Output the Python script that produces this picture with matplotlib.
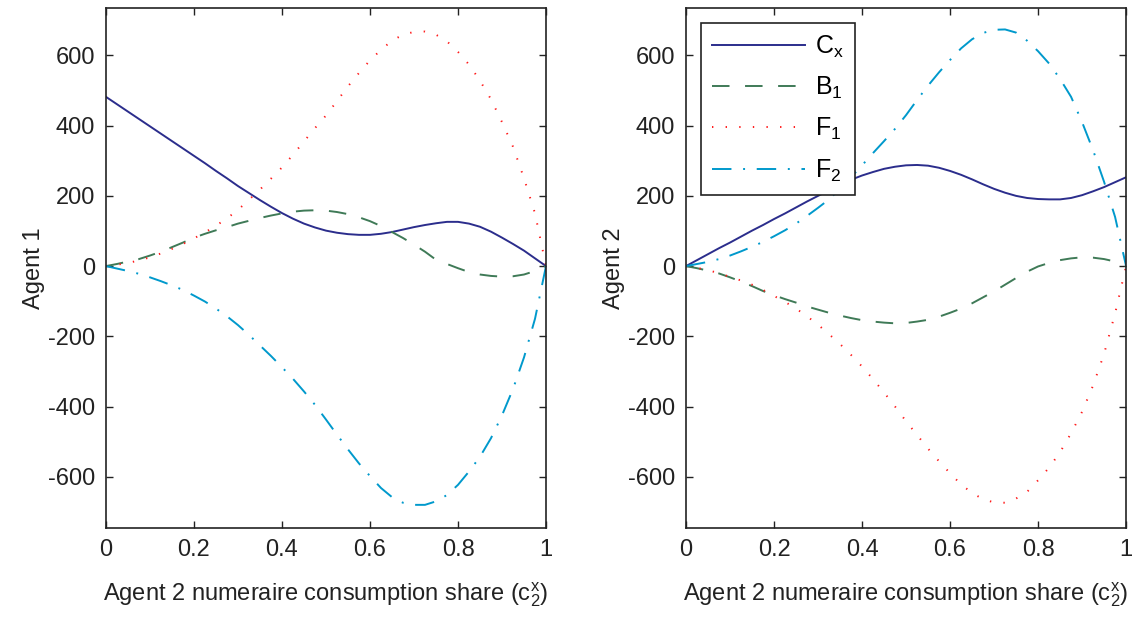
import matplotlib
matplotlib.use("Agg")
import matplotlib.pyplot as plt

plt.rcParams['font.family'] = ['Liberation Sans', 'DejaVu Sans']
plt.rcParams['mathtext.fontset'] = 'custom'
plt.rcParams['mathtext.rm'] = 'Liberation Sans'
plt.rcParams['mathtext.it'] = 'Liberation Sans'
plt.rcParams['mathtext.default'] = 'regular'
plt.rcParams['axes.unicode_minus'] = False

# agent 2 numeraire consumption share, steps of 0.025
share = [i / 40 for i in range(41)]

# agent 1
a1_cx = [482, 461, 440, 419, 398, 377, 356, 335, 314, 293, 271, 250, 228, 208,
         188, 169, 151, 135, 121, 110, 101, 95, 91, 89, 89, 92, 97, 104, 111,
         117, 122, 126, 126, 121, 112, 98, 81, 63, 44, 22, 0]
a1_b1 = [0, 6, 13, 20, 30, 41, 54, 67, 81, 92, 102, 111, 121, 129, 137, 144,
         150, 155, 158, 159, 158, 154, 148, 139, 128, 114, 97, 80, 61, 41, 18,
         6, -6, -17, -24, -28, -30, -29, -24, -14, 0]
a1_f1 = [0, 4, 9, 16, 25, 36, 49, 63, 79, 96, 115, 136, 160, 189, 218, 249,
         281, 317, 355, 393, 429, 470, 512, 550, 586, 616, 642, 659, 667, 668,
         659, 640, 610, 574, 528, 475, 410, 340, 250, 150, 0]
a1_f2 = [0, -7, -14, -22, -32, -43, -55, -68, -84, -101, -121, -143, -168,
         -196, -226, -256, -288, -321, -357, -395, -437, -480, -522, -562,
         -598, -632, -658, -674, -680, -680, -670, -652, -623, -585, -543,
         -490, -425, -350, -260, -150, 0]

# agent 2
a2_cx = [0, 17, 34, 51, 67, 84, 101, 117, 134, 150, 167, 184, 200, 216, 231,
         246, 258, 268, 277, 283, 287, 288, 286, 280, 271, 260, 247, 233, 220,
         209, 200, 194, 191, 190, 190, 194, 202, 213, 225, 239, 253]
a2_b1 = [0, -6, -13, -21, -32, -44, -57, -71, -83, -94, -104, -115, -124,
         -133, -141, -148, -154, -158, -161, -163, -162, -158, -153, -144,
         -133, -121, -106, -89, -72, -53, -34, -16, -1, 9, 17, 22, 25, 24, 20,
         13, 0]
a2_f1 = [0, -5, -12, -20, -31, -41, -53, -68, -85, -102, -121, -143, -167,
         -194, -222, -253, -286, -322, -360, -400, -442, -481, -520, -556,
         -590, -622, -646, -664, -673, -674, -662, -643, -610, -574, -530,
         -476, -415, -340, -250, -135, 0]
a2_f2 = [0, 6, 12, 20, 30, 42, 55, 69, 85, 102, 121, 143, 166, 190, 220, 253,
         287, 322, 356, 391, 430, 473, 514, 552, 587, 620, 646, 664, 673, 674,
         665, 642, 612, 577, 533, 482, 410, 330, 240, 140, 0]

labels = ['C$_x$', 'B$_1$', 'F$_1$', 'F$_2$']
colors = ['#2b2d8c', '#3f7a57', '#ff1a1a', '#0099cc']
styles = ['-', (0, (9, 8)), (0, (0.7, 6.3)), (0, (10, 6, 1, 6))]

fig = plt.figure(figsize=(11.43, 6.17), dpi=100)
ax1 = fig.add_axes([0.0927, 0.1442, 0.385, 0.8428])
ax2 = fig.add_axes([0.6002, 0.1442, 0.385, 0.8428])

for ax, series, ylab in [(ax1, [a1_cx, a1_b1, a1_f1, a1_f2], 'Agent 1'),
                         (ax2, [a2_cx, a2_b1, a2_f1, a2_f2], 'Agent 2')]:
    for y, lab, c, ls in zip(series, labels, colors, styles):
        ax.plot(share, y, color=c, linestyle=ls, lw=1.4, label=lab)
    ax.set_xlim(0, 1)
    ax.set_ylim(-746, 735)
    ax.set_xticks([0, 0.2, 0.4, 0.6, 0.8, 1])
    ax.set_xticklabels(['0', '0.2', '0.4', '0.6', '0.8', '1'])
    ax.set_yticks([-600, -400, -200, 0, 200, 400, 600])
    ax.tick_params(direction='in', top=True, right=True, length=5,
                   width=1, labelsize=17, colors='#222222', pad=8)
    for sp in ax.spines.values():
        sp.set_linewidth(1.2)
        sp.set_color('#222222')
    ax.set_ylabel(ylab, fontsize=17, color='#222222', labelpad=2)
    ax.set_xlabel('Agent 2 numeraire consumption share (c$_2^x$)',
                  fontsize=17, color='#222222', labelpad=14)

leg = ax2.legend(loc='upper left', bbox_to_anchor=(0.034, 0.972),
                 fontsize=18, handlelength=3.7, labelspacing=0.6,
                 fancybox=False, framealpha=1, borderpad=0.45,
                 handletextpad=0.4, borderaxespad=0)
leg.get_frame().set_edgecolor('#222222')
leg.get_frame().set_linewidth(1.2)

fig.savefig('out.png', dpi=100)
